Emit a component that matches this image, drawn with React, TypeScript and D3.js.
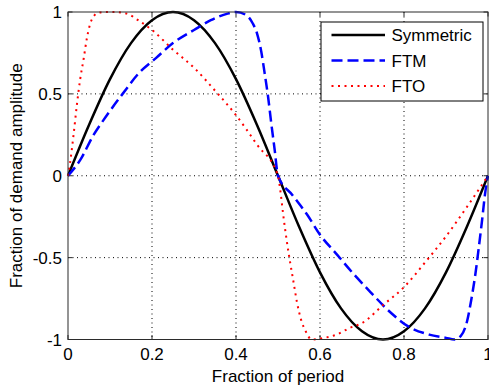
import * as d3 from "d3";

const symX = [0, 0.05, 0.1, 0.15, 0.2, 0.25, 0.3, 0.35, 0.4, 0.45, 0.5, 0.55, 0.6, 0.65, 0.7, 0.75, 0.8, 0.85, 0.9, 0.95, 1];
const symY = [0, 0.31, 0.59, 0.81, 0.95, 1, 0.95, 0.81, 0.59, 0.31, 0, -0.31, -0.59, -0.81, -0.95, -1, -0.95, -0.81, -0.59, -0.31, 0];

const ftmX = [0, 0.03, 0.06, 0.09, 0.13, 0.17, 0.21, 0.25, 0.3, 0.34, 0.38, 0.4, 0.425, 0.44, 0.45, 0.46, 0.468, 0.476, 0.484, 0.492, 0.5,
  0.535, 0.57, 0.6, 0.64, 0.68, 0.72, 0.77, 0.81, 0.86, 0.9, 0.92, 0.935, 0.95, 0.96, 0.97, 0.978, 0.986, 0.993, 1];
const ftmY = [0, 0.1, 0.245, 0.36, 0.5, 0.63, 0.72, 0.81, 0.89, 0.95, 0.99, 1, 0.98, 0.93, 0.87, 0.76, 0.63, 0.49, 0.32, 0.16, 0,
  -0.12, -0.24, -0.36, -0.48, -0.6, -0.71, -0.84, -0.92, -0.97, -0.99, -1, -0.98, -0.89, -0.76, -0.6, -0.44, -0.27, -0.11, 0];

const ftoX = [0, 0.005, 0.013, 0.021, 0.029, 0.037, 0.045, 0.056, 0.072, 0.09, 0.11, 0.14, 0.167, 0.2, 0.25, 0.3, 0.35, 0.4, 0.45, 0.5,
  0.505, 0.513, 0.521, 0.529, 0.537, 0.545, 0.555, 0.566, 0.58, 0.61, 0.64, 0.67, 0.7, 0.75, 0.8, 0.85, 0.9, 0.95, 1];
const ftoY = [0, 0.08, 0.245, 0.43, 0.59, 0.71, 0.84, 0.95, 0.995, 1, 1, 0.99, 0.95, 0.89, 0.77, 0.66, 0.52, 0.37, 0.19, 0,
  -0.08, -0.25, -0.4, -0.53, -0.65, -0.77, -0.88, -0.95, -1, -0.99, -0.97, -0.93, -0.9, -0.79, -0.68, -0.53, -0.37, -0.19, 0];

const xTicks = [0, 0.2, 0.4, 0.6, 0.8, 1];
const yTicks = [-1, -0.5, 0, 0.5, 1];
const xTickLabels = ["0", "0.2", "0.4", "0.6", "0.8", "1"];
const yTickLabels = ["-1", "-0.5", "0", "0.5", "1"];

const seriesNames = ["Symmetric", "FTM", "FTO"];
const seriesColors = ["#000000", "#0000ff", "#ff0000"];
const seriesDash = [undefined, "11,5", "2,4.5"];

const width = 489;
const height = 387;
const left = 68;
const right = 488;
const top = 12;
const bottom = 339.5;
const font = "'Liberation Sans', Arial, Helvetica, sans-serif";

export default function App() {
  const x = d3.scaleLinear().domain([0, 1]).range([left, right]);
  const y = d3.scaleLinear().domain([-1, 1]).range([bottom, top]);

  const line = d3
    .line<[number, number]>()
    .x((d) => x(d[0]))
    .y((d) => y(d[1]))
    .curve(d3.curveMonotoneX);

  const series = [
    d3.zip(symX, symY) as [number, number][],
    d3.zip(ftmX, ftmY) as [number, number][],
    d3.zip(ftoX, ftoY) as [number, number][],
  ];

  const axisColor = "#2b2b2b";
  const tickLen = 4.5;
  const legX = 321;
  const legY = 22;
  const rowH = 25.5;

  return (
    <svg
      width={width}
      height={height}
      style={{ position: "absolute", left: 0, top: 0, background: "#fff" }}
      fontFamily={font}
    >
      <rect x={0} y={0} width={width} height={height} fill="#fff" />

      {/* grid */}
      <g stroke="#000" strokeWidth={1} strokeDasharray="1,3.5">
        {xTicks.slice(1, -1).map((t) => (
          <line key={"gx" + t} x1={x(t)} x2={x(t)} y1={top} y2={bottom} />
        ))}
        {yTicks.slice(1, -1).map((t) => (
          <line key={"gy" + t} x1={left} x2={right} y1={y(t)} y2={y(t)} />
        ))}
      </g>

      {/* ticks on all four sides */}
      <g stroke={axisColor} strokeWidth={1}>
        {xTicks.map((t) => (
          <g key={"tx" + t}>
            <line x1={x(t)} x2={x(t)} y1={bottom} y2={bottom - tickLen} />
            <line x1={x(t)} x2={x(t)} y1={top} y2={top + tickLen} />
          </g>
        ))}
        {yTicks.map((t) => (
          <g key={"ty" + t}>
            <line x1={left} x2={left + tickLen} y1={y(t)} y2={y(t)} />
            <line x1={right} x2={right - tickLen} y1={y(t)} y2={y(t)} />
          </g>
        ))}
      </g>

      {/* curves */}
      {series.map((s, i) => (
        <path
          key={seriesNames[i]}
          d={line(s) || undefined}
          fill="none"
          stroke={seriesColors[i]}
          strokeWidth={i === 2 ? 2 : 2.5}
          strokeDasharray={seriesDash[i]}
        />
      ))}

      {/* axes box */}
      <rect
        x={left}
        y={top}
        width={right - left}
        height={bottom - top}
        fill="none"
        stroke={axisColor}
        strokeWidth={1}
      />

      {/* tick labels */}
      <g fontSize={17} fill="#000">
        {xTicks.map((t, i) => (
          <text key={"lx" + t} x={x(t)} y={360} textAnchor="middle">
            {xTickLabels[i]}
          </text>
        ))}
        {yTicks.map((t, i) => (
          <text key={"ly" + t} x={62} y={y(t)} dy="0.36em" textAnchor="end">
            {yTickLabels[i]}
          </text>
        ))}
      </g>

      {/* axis titles */}
      <text x={(left + right) / 2} y={382} textAnchor="middle" fontSize={17}>
        Fraction of period
      </text>
      <text
        transform={`translate(22,${(top + bottom) / 2}) rotate(-90)`}
        textAnchor="middle"
        fontSize={17}
      >
        Fraction of demand amplitude
      </text>

      {/* legend */}
      <g>
        <rect x={legX} y={legY} width={162} height={79} fill="#fff" stroke="#000" strokeWidth={1} />
        {seriesNames.map((n, i) => {
          const ly = legY + 13 + i * rowH;
          return (
            <g key={"lg" + n}>
              <line
                x1={legX + 10.5}
                x2={legX + 64}
                y1={ly}
                y2={ly}
                stroke={seriesColors[i]}
                strokeWidth={i === 2 ? 2 : 2.5}
                strokeDasharray={seriesDash[i]}
              />
              <text x={legX + 70.5} y={ly + 6} fontSize={17}>
                {n}
              </text>
            </g>
          );
        })}
      </g>
    </svg>
  );
}
